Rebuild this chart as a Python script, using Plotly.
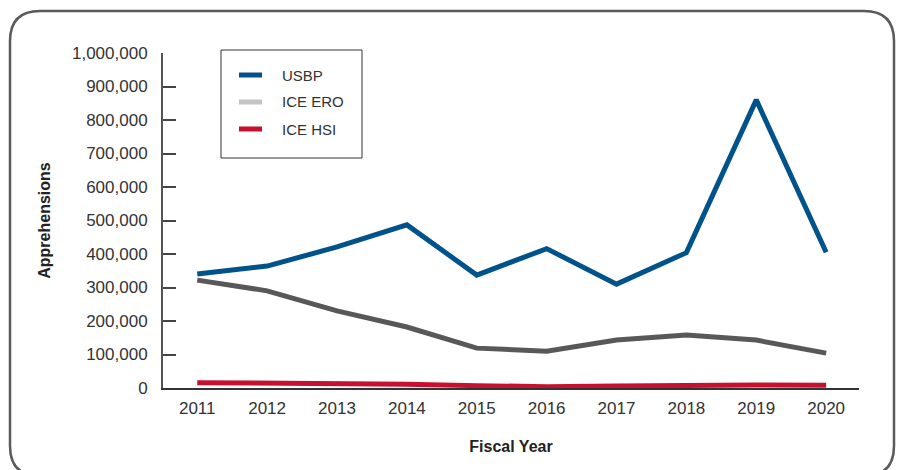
import plotly.graph_objects as go

years = [2011, 2012, 2013, 2014, 2015, 2016, 2017, 2018, 2019, 2020]
usbp = [340000, 364000, 421000, 487000, 337000, 416000, 310000, 404000, 860000, 405000]
ice_ero = [322000, 290000, 230000, 182000, 119000, 110000, 143000, 158000, 143000, 104000]
ice_hsi = [16000, 15000, 12000, 11000, 7000, 4000, 6000, 8000, 9000, 8000]
series_names = ["USBP", "ICE ERO", "ICE HSI"]
line_colors = ["#00538a", "#58585a", "#c8102e"]
legend_colors = ["#00538a", "#c4c4c4", "#c8102e"]
y_ticks = [0, 100000, 200000, 300000, 400000, 500000, 600000, 700000, 800000, 900000, 1000000]

W, H = 898, 470
L, R, T, B = 163, 39, 53, 82
PW, PH = W - L - R, H - T - B

def px(x):
    return (x - L) / PW

def py(y):
    return (H - B - y) / PH

fig = go.Figure()
for vals, name, col in zip([usbp, ice_ero, ice_hsi], series_names, line_colors):
    fig.add_trace(go.Scatter(x=years, y=vals, mode="lines", name=name,
                             line=dict(color=col, width=5), showlegend=False,
                             hoverinfo="x+y+name"))

# rounded frame
x0, x1, y0, y1, r = 10, 894, 11, 476, 30
path = (f"M {px(x0+r)},{py(y0)} L {px(x1-r)},{py(y0)} "
        f"Q {px(x1)},{py(y0)} {px(x1)},{py(y0+r)} L {px(x1)},{py(y1-r)} "
        f"Q {px(x1)},{py(y1)} {px(x1-r)},{py(y1)} L {px(x0+r)},{py(y1)} "
        f"Q {px(x0)},{py(y1)} {px(x0)},{py(y1-r)} L {px(x0)},{py(y0+r)} "
        f"Q {px(x0)},{py(y0)} {px(x0+r)},{py(y0)} Z")
fig.add_shape(type="path", path=path, xref="paper", yref="paper",
              line=dict(color="#5a5a5a", width=2.5), layer="below")

# legend box drawn by hand
fig.add_shape(type="rect", xref="paper", yref="paper",
              x0=px(221), x1=px(362), y0=py(50), y1=py(158),
              line=dict(color="#333333", width=1), fillcolor="white", layer="above")
for i, (name, col) in enumerate(zip(series_names, legend_colors)):
    yy = 75 + 27 * i
    fig.add_shape(type="line", xref="paper", yref="paper",
                  x0=px(239), x1=px(262), y0=py(yy), y1=py(yy),
                  line=dict(color=col, width=5), layer="above")
    fig.add_annotation(x=px(280), y=py(yy), xref="paper", yref="paper",
                       text=name, showarrow=False, xanchor="left", yanchor="middle",
                       font=dict(size=15, color="#333333"))

font = "Liberation Sans, Arial, sans-serif"
fig.update_layout(
    width=W, height=H,
    margin=dict(l=L, r=R, t=T, b=B),
    paper_bgcolor="white", plot_bgcolor="white",
    font=dict(family=font, size=17, color="#333333"),
    showlegend=False,
    xaxis=dict(range=[2010.51, 2020.47], tickvals=years,
               ticktext=[str(y) for y in years], showgrid=False,
               zeroline=False, showline=True, linecolor="#333333",
               linewidth=1.5, ticks="", tickfont=dict(size=17),
               ticklabelstandoff=4,
               title=dict(text="<b>Fiscal Year</b>", font=dict(size=16, color="#222222"),
                          standoff=24)),
    yaxis=dict(range=[0, 1000000], tickvals=y_ticks, tickformat=",d",
               showgrid=False, zeroline=False, showline=True,
               linecolor="#555555", linewidth=2, ticks="inside",
               ticklen=13, tickwidth=1.5, tickcolor="#444444",
               ticklabelstandoff=10,
               tickfont=dict(size=17),
               title=dict(text="<b>Apprehensions</b>", font=dict(size=16, color="#222222"),
                          standoff=17)),
)
fig.write_html("out.html", config={"displayModeBar": False},
               post_script="document.body.style.margin='0';")
